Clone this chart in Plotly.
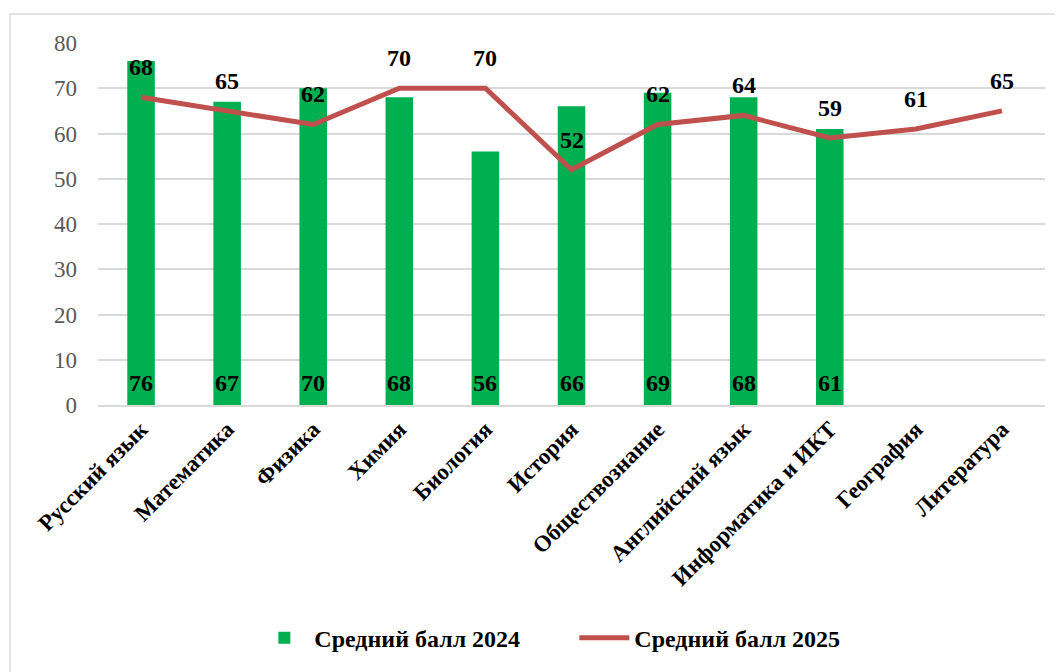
import plotly.graph_objects as go

categories = ["Русский язык", "Математика", "Физика", "Химия", "Биология", "История",
              "Обществознание", "Английский язык", "Информатика и ИКТ", "География", "Литература"]
score_2024 = [76, 67, 70, 68, 56, 66, 69, 68, 61, None, None]
score_2025 = [68, 65, 62, 70, 70, 52, 62, 64, 59, 61, 65]
y_ticks = [0, 10, 20, 30, 40, 50, 60, 70, 80]

FONT = "Liberation Serif"

fig = go.Figure()
fig.add_trace(go.Bar(
    x=categories, y=score_2024, name="Средний балл 2024",
    marker=dict(color="#00B050", line=dict(width=0)),
    width=0.32,
))
fig.add_trace(go.Scatter(
    x=categories, y=score_2025, name="Средний балл 2025",
    mode="lines", line=dict(color="#C0504D", width=5),
))

annotations = []
for c, v in zip(categories, score_2024):
    if v is None:
        continue
    annotations.append(dict(
        x=c, y=0, xref="x", yref="y", text=str(v), showarrow=False,
        yanchor="middle", yshift=22,
        font=dict(family=FONT, size=24, color="black", weight="bold"),
    ))
for c, v in zip(categories, score_2025):
    annotations.append(dict(
        x=c, y=v, xref="x", yref="y", text=str(v), showarrow=False,
        yanchor="middle", yshift=30,
        font=dict(family=FONT, size=24, color="black", weight="bold"),
    ))

fig.update_layout(
    width=1063, height=672,
    margin=dict(l=90, r=26, t=35, b=275),
    paper_bgcolor="white", plot_bgcolor="white",
    font=dict(family=FONT),
    annotations=annotations,
    showlegend=True,
    legend=dict(
        orientation="h", x=0.503, xanchor="center", y=-0.644, yanchor="middle",
        font=dict(family=FONT, size=24, color="black", weight="bold"),
        itemwidth=50, entrywidth=255, entrywidthmode="pixels",
    ),
    shapes=[dict(
        type="rect", xref="paper", yref="paper",
        x0=(10 - 98) / 947, x1=(1080 - 98) / 947,
        y0=(405 - 700) / 362, y1=(405 - 14) / 362,
        line=dict(color="#D9D9D9", width=1.5), fillcolor="rgba(0,0,0,0)", layer="below",
    )],
)
fig.update_xaxes(
    tickangle=-45, showgrid=False, showline=True, linecolor="#D9D9D9", linewidth=1.5,
    tickfont=dict(family=FONT, size=23, color="black", weight="bold"),
    ticks="",
)
fig.update_yaxes(
    range=[0, 80], tickvals=y_ticks, showgrid=True, gridcolor="#D9D9D9", gridwidth=1.5,
    zeroline=False, showline=False, ticks="",
    tickfont=dict(family=FONT, size=23, color="#595959"),
    ticklabelstandoff=20,
)

fig.write_html("out.html")
